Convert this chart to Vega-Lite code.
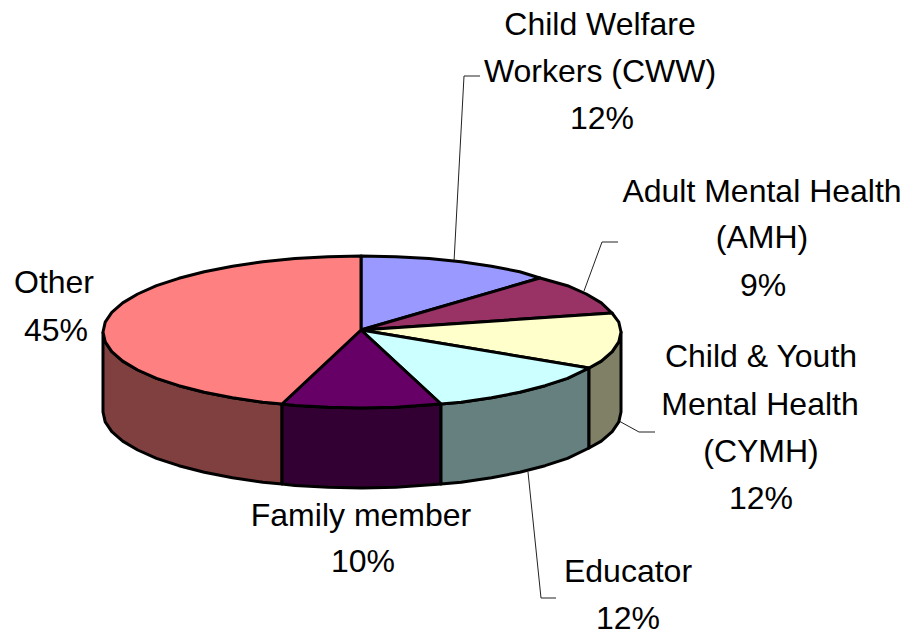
{"$schema":"https://vega.github.io/schema/vega-lite/v6.json","width":908,"height":635,"padding":0,"autosize":{"type":"none"},"background":"white","config":{"view":{"stroke":null}},
"resolve":{"scale":{"fill":"independent"}},
"datasets":{
"walls":[
{"s":"Other wall","o":1,"x":103,"y":332},{"s":"Other wall","o":2,"x":105.2,"y":341.9},{"s":"Other wall","o":3,"x":111.8,"y":351.7},{"s":"Other wall","o":4,"x":122.7,"y":361.1},{"s":"Other wall","o":5,"x":137.7,"y":370},{"s":"Other wall","o":6,"x":156.5,"y":378.3},{"s":"Other wall","o":7,"x":178.9,"y":385.7},{"s":"Other wall","o":8,"x":204.3,"y":392.3},{"s":"Other wall","o":9,"x":232.5,"y":397.8},{"s":"Other wall","o":10,"x":262.9,"y":402.2},{"s":"Other wall","o":11,"x":282,"y":404},{"s":"Other wall","o":12,"x":282,"y":484},{"s":"Other wall","o":13,"x":262.9,"y":482.2},{"s":"Other wall","o":14,"x":232.5,"y":477.8},{"s":"Other wall","o":15,"x":204.3,"y":472.3},{"s":"Other wall","o":16,"x":178.9,"y":465.7},{"s":"Other wall","o":17,"x":156.5,"y":458.3},{"s":"Other wall","o":18,"x":137.7,"y":450},{"s":"Other wall","o":19,"x":122.7,"y":441.1},{"s":"Other wall","o":20,"x":111.8,"y":431.7},{"s":"Other wall","o":21,"x":105.2,"y":421.9},{"s":"Other wall","o":22,"x":103,"y":412},{"s":"Other wall","o":23,"x":103,"y":332},
{"s":"Family wall","o":1,"x":282,"y":404},{"s":"Family wall","o":2,"x":295,"y":405.4},{"s":"Family wall","o":3,"x":328.2,"y":407.3},{"s":"Family wall","o":4,"x":362,"y":408},{"s":"Family wall","o":5,"x":395.8,"y":407.3},{"s":"Family wall","o":6,"x":441,"y":404},{"s":"Family wall","o":7,"x":441,"y":484},{"s":"Family wall","o":8,"x":395.8,"y":487.3},{"s":"Family wall","o":9,"x":362,"y":488},{"s":"Family wall","o":10,"x":328.2,"y":487.3},{"s":"Family wall","o":11,"x":295,"y":485.4},{"s":"Family wall","o":12,"x":282,"y":484},{"s":"Family wall","o":13,"x":282,"y":404},
{"s":"Educator wall","o":1,"x":441,"y":404},{"s":"Educator wall","o":2,"x":461.1,"y":402.2},{"s":"Educator wall","o":3,"x":491.5,"y":397.8},{"s":"Educator wall","o":4,"x":519.7,"y":392.3},{"s":"Educator wall","o":5,"x":545.1,"y":385.7},{"s":"Educator wall","o":6,"x":567.5,"y":378.3},{"s":"Educator wall","o":7,"x":589,"y":368},{"s":"Educator wall","o":8,"x":589,"y":448},{"s":"Educator wall","o":9,"x":567.5,"y":458.3},{"s":"Educator wall","o":10,"x":545.1,"y":465.7},{"s":"Educator wall","o":11,"x":519.7,"y":472.3},{"s":"Educator wall","o":12,"x":491.5,"y":477.8},{"s":"Educator wall","o":13,"x":461.1,"y":482.2},{"s":"Educator wall","o":14,"x":441,"y":484},{"s":"Educator wall","o":15,"x":441,"y":404},
{"s":"CYMH wall","o":1,"x":589,"y":368},{"s":"CYMH wall","o":2,"x":601.3,"y":361.1},{"s":"CYMH wall","o":3,"x":612.2,"y":351.7},{"s":"CYMH wall","o":4,"x":618.8,"y":341.9},{"s":"CYMH wall","o":5,"x":621,"y":332},{"s":"CYMH wall","o":6,"x":621,"y":412},{"s":"CYMH wall","o":7,"x":618.8,"y":421.9},{"s":"CYMH wall","o":8,"x":612.2,"y":431.7},{"s":"CYMH wall","o":9,"x":601.3,"y":441.1},{"s":"CYMH wall","o":10,"x":589,"y":448},{"s":"CYMH wall","o":11,"x":589,"y":368}
],
"tops":[
{"s":"Child Welfare Workers","o":1,"x":361,"y":330},{"s":"Child Welfare Workers","o":2,"x":361,"y":256},{"s":"Child Welfare Workers","o":3,"x":395.8,"y":256.7},{"s":"Child Welfare Workers","o":4,"x":429,"y":258.6},{"s":"Child Welfare Workers","o":5,"x":461.1,"y":261.8},{"s":"Child Welfare Workers","o":6,"x":491.5,"y":266.2},{"s":"Child Welfare Workers","o":7,"x":519.7,"y":271.7},{"s":"Child Welfare Workers","o":8,"x":540,"y":278},{"s":"Child Welfare Workers","o":9,"x":361,"y":330},
{"s":"Adult Mental Health","o":1,"x":361,"y":330},{"s":"Adult Mental Health","o":2,"x":540,"y":278},{"s":"Adult Mental Health","o":3,"x":567.5,"y":285.7},{"s":"Adult Mental Health","o":4,"x":586.3,"y":294},{"s":"Adult Mental Health","o":5,"x":601.3,"y":302.9},{"s":"Adult Mental Health","o":6,"x":612,"y":313},{"s":"Adult Mental Health","o":7,"x":361,"y":330},
{"s":"Child & Youth Mental Health","o":1,"x":361,"y":330},{"s":"Child & Youth Mental Health","o":2,"x":612,"y":313},{"s":"Child & Youth Mental Health","o":3,"x":618.8,"y":322.1},{"s":"Child & Youth Mental Health","o":4,"x":621,"y":332},{"s":"Child & Youth Mental Health","o":5,"x":618.8,"y":341.9},{"s":"Child & Youth Mental Health","o":6,"x":612.2,"y":351.7},{"s":"Child & Youth Mental Health","o":7,"x":601.3,"y":361.1},{"s":"Child & Youth Mental Health","o":8,"x":589,"y":368},{"s":"Child & Youth Mental Health","o":9,"x":361,"y":330},
{"s":"Educator","o":1,"x":361,"y":330},{"s":"Educator","o":2,"x":589,"y":368},{"s":"Educator","o":3,"x":567.5,"y":378.3},{"s":"Educator","o":4,"x":545.1,"y":385.7},{"s":"Educator","o":5,"x":519.7,"y":392.3},{"s":"Educator","o":6,"x":491.5,"y":397.8},{"s":"Educator","o":7,"x":461.1,"y":402.2},{"s":"Educator","o":8,"x":441,"y":404},{"s":"Educator","o":9,"x":361,"y":330},
{"s":"Family member","o":1,"x":361,"y":330},{"s":"Family member","o":2,"x":441,"y":404},{"s":"Family member","o":3,"x":395.8,"y":407.3},{"s":"Family member","o":4,"x":362,"y":408},{"s":"Family member","o":5,"x":328.2,"y":407.3},{"s":"Family member","o":6,"x":295,"y":405.4},{"s":"Family member","o":7,"x":282,"y":404},{"s":"Family member","o":8,"x":361,"y":330},
{"s":"Other","o":1,"x":361,"y":330},{"s":"Other","o":2,"x":282,"y":404},{"s":"Other","o":3,"x":262.9,"y":402.2},{"s":"Other","o":4,"x":232.5,"y":397.8},{"s":"Other","o":5,"x":204.3,"y":392.3},{"s":"Other","o":6,"x":178.9,"y":385.7},{"s":"Other","o":7,"x":156.5,"y":378.3},{"s":"Other","o":8,"x":137.7,"y":370},{"s":"Other","o":9,"x":122.7,"y":361.1},{"s":"Other","o":10,"x":111.8,"y":351.7},{"s":"Other","o":11,"x":105.2,"y":341.9},{"s":"Other","o":12,"x":103,"y":332},{"s":"Other","o":13,"x":105.2,"y":322.1},{"s":"Other","o":14,"x":111.8,"y":312.3},{"s":"Other","o":15,"x":122.7,"y":302.9},{"s":"Other","o":16,"x":137.7,"y":294},{"s":"Other","o":17,"x":156.5,"y":285.7},{"s":"Other","o":18,"x":178.9,"y":278.3},{"s":"Other","o":19,"x":204.3,"y":271.7},{"s":"Other","o":20,"x":232.5,"y":266.2},{"s":"Other","o":21,"x":262.9,"y":261.8},{"s":"Other","o":22,"x":295,"y":258.6},{"s":"Other","o":23,"x":328.2,"y":256.7},{"s":"Other","o":24,"x":361,"y":256},{"s":"Other","o":25,"x":361,"y":330}
],
"leaders":[
{"s":"CWW","o":1,"x":454,"y":262},{"s":"CWW","o":2,"x":464,"y":76},{"s":"CWW","o":3,"x":480,"y":76},
{"s":"AMH","o":1,"x":584,"y":291},{"s":"AMH","o":2,"x":602,"y":242},{"s":"AMH","o":3,"x":618,"y":242},
{"s":"CYMH","o":1,"x":619,"y":421},{"s":"CYMH","o":2,"x":639,"y":432},{"s":"CYMH","o":3,"x":655,"y":432},
{"s":"Educator","o":1,"x":528,"y":472},{"s":"Educator","o":2,"x":541,"y":598},{"s":"Educator","o":3,"x":556,"y":598}
],
"labels":[
{"t":"Child Welfare","x":600,"y":25},{"t":"Workers (CWW)","x":600,"y":72},{"t":"12%","x":602,"y":119},
{"t":"Adult Mental Health","x":762,"y":192},{"t":"(AMH)","x":762,"y":238},{"t":"9%","x":763,"y":286},
{"t":"Child & Youth","x":761,"y":357},{"t":"Mental Health","x":760,"y":405},{"t":"(CYMH)","x":761,"y":452},{"t":"12%","x":761,"y":499},
{"t":"Educator","x":628,"y":572},{"t":"12%","x":628,"y":619},
{"t":"Family member","x":361,"y":516},{"t":"10%","x":363,"y":562},
{"t":"Other","x":54,"y":283},{"t":"45%","x":56,"y":331}
]},
"encoding":{
"x":{"field":"x","type":"quantitative","axis":null,"scale":{"domain":[0,908],"nice":false,"zero":false}},
"y":{"field":"y","type":"quantitative","axis":null,"scale":{"domain":[635,0],"nice":false,"zero":false}}
},
"layer":[
{"data":{"name":"leaders"},"mark":{"type":"line","stroke":"#222222","strokeWidth":1},"encoding":{"detail":{"field":"s"},"order":{"field":"o","type":"quantitative"}}},
{"data":{"name":"walls"},"mark":{"type":"line","filled":true,"stroke":"black","strokeWidth":3,"strokeJoin":"round"},"encoding":{"order":{"field":"o","type":"quantitative"},"fill":{"field":"s","type":"nominal","legend":null,"scale":{"domain":["Other wall","Family wall","Educator wall","CYMH wall"],"range":["#804040","#330033","#668080","#808066"]}}}},
{"data":{"name":"tops"},"mark":{"type":"line","filled":true,"stroke":"black","strokeWidth":3,"strokeJoin":"round"},"encoding":{"order":{"field":"o","type":"quantitative"},"fill":{"field":"s","type":"nominal","legend":null,"scale":{"domain":["Child Welfare Workers","Adult Mental Health","Child & Youth Mental Health","Educator","Family member","Other"],"range":["#9999FF","#993366","#FFFFCC","#CCFFFF","#660066","#FF8080"]}}}},
{"data":{"name":"labels"},"mark":{"type":"text","font":"Liberation Sans","fontSize":32,"color":"black","align":"center","baseline":"middle"},"encoding":{"text":{"field":"t"}}}
]}
